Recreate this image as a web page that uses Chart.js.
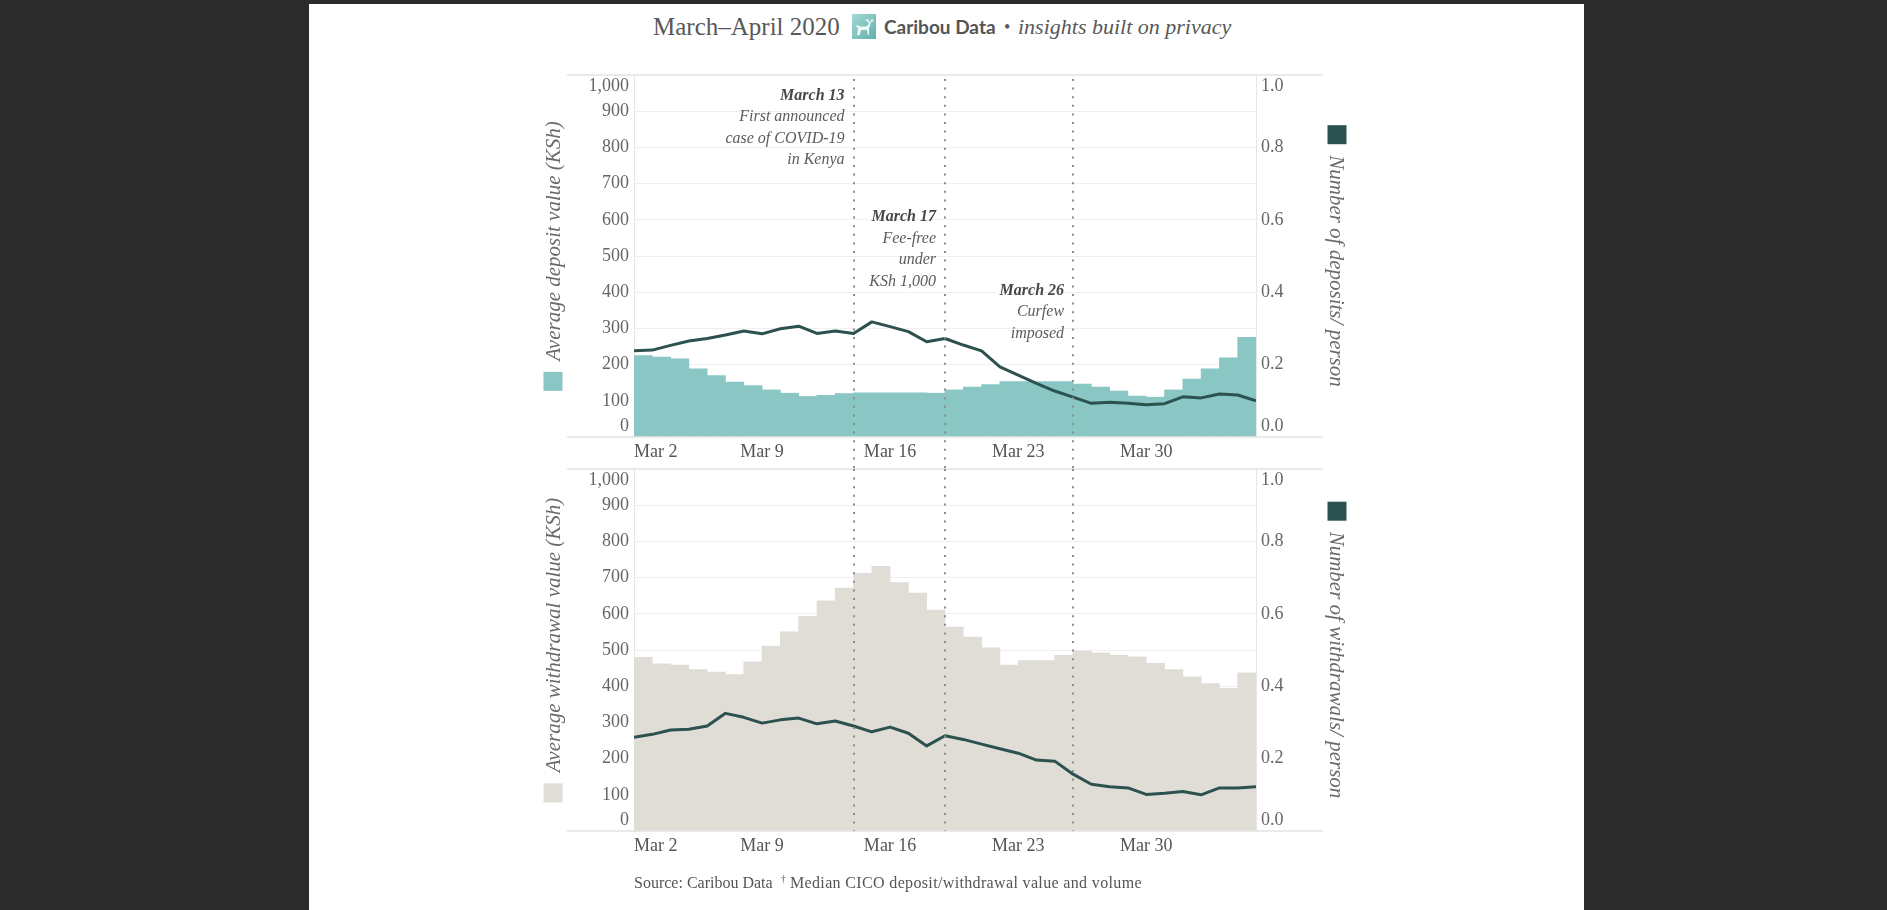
<!DOCTYPE html>
<html>
<head>
<meta charset="utf-8">
<script src="https://cdn.jsdelivr.net/npm/chart.js@4.4.1/dist/chart.umd.min.js"></script>
<style>
html,body{margin:0;padding:0;}
body{width:1887px;height:910px;background:#2b2b2b;position:relative;overflow:hidden;font-family:'Liberation Serif',serif;}
#page{position:absolute;left:309px;top:4px;width:1275px;height:906px;background:#fff;}
.hd{position:absolute;top:9px;height:36px;line-height:36px;white-space:nowrap;color:#585858;}
#t1{left:653px;font-size:25px;}
#logo{position:absolute;left:852px;top:14px;}
#t2{left:884px;font-family:'Lato',sans-serif;font-weight:700;font-size:19px;color:#555;}
#t3{left:1004px;font-size:18px;}
#t4{left:1018px;font-size:22px;font-style:italic;}
#src{position:absolute;left:634px;top:872px;font-size:16px;line-height:22px;color:#555;white-space:nowrap;}
#src sup{font-size:10px;vertical-align:6px;line-height:0;}
#src .n{letter-spacing:0.35px;}
canvas{position:absolute;left:0;}
#cA{top:0;}
#cB{top:440px;}
</style>
</head>
<body>
<div id="page"></div>
<span class="hd" id="t1">March–April 2020</span>
<svg id="logo" width="24" height="25" viewBox="0 0 24 25">
  <defs><linearGradient id="lg" x1="0" y1="0" x2="1" y2="1"><stop offset="0" stop-color="#a6d8d3"/><stop offset="1" stop-color="#5fb0ab"/></linearGradient></defs>
  <rect x="0" y="0" width="24" height="25" fill="url(#lg)"/>
  <path d="M5 21 L6 14 L4 12 L5 11 L8 12.5 L14 12.5 L17 10 L18.5 10.5 L17 14.5 L17 21 L15.8 21 L15 16 L9 16 L7.8 21 Z" fill="#eef8f6"/>
  <path d="M17.5 10 L15.5 5 M17.5 10 L20.5 5 M16 7 L13.5 6 M19.5 7 L22 7" stroke="#eef8f6" stroke-width="1.2" fill="none"/>
</svg>
<span class="hd" id="t2">Caribou Data</span>
<span class="hd" id="t3">•</span>
<span class="hd" id="t4">insights built on privacy</span>
<canvas id="cA" width="1887" height="470"></canvas>
<canvas id="cB" width="1887" height="470"></canvas>
<div id="src">Source: Caribou Data&nbsp;&nbsp;<sup>†</sup><span class="n"> Median CICO deposit/withdrawal value and volume</span></div>

<script>
// ---- categories ----
const barDays = ['Mar 2','Mar 3','Mar 4','Mar 5','Mar 6','Mar 7','Mar 8','Mar 9','Mar 10','Mar 11','Mar 12','Mar 13','Mar 14','Mar 15','Mar 16','Mar 17','Mar 18','Mar 19','Mar 20','Mar 21','Mar 22','Mar 23','Mar 24','Mar 25','Mar 26','Mar 27','Mar 28','Mar 29','Mar 30','Mar 31','Apr 1','Apr 2','Apr 3','Apr 4'];
const lineDays = barDays.concat(['Apr 5']);

// ---- series (bars: average value, KSh; lines: count per person) ----
const depositValue = [225,221,216,188,170,152,142,130,121,112,115,120,122,122,122,122,121,130,138,145,153,153,153,153,146,138,127,113,110,130,160,188,219,275];
const depositCount = [0.238,0.240,0.253,0.265,0.272,0.282,0.293,0.285,0.299,0.306,0.286,0.293,0.286,0.318,0.305,0.291,0.263,0.272,0.254,0.238,0.194,0.171,0.148,0.127,0.110,0.093,0.096,0.093,0.089,0.092,0.111,0.108,0.119,0.116,0.100];
const withdrawValue = [480,462,458,446,439,432,467,511,550,593,636,671,712,731,686,657,610,563,536,506,458,471,471,485,498,492,486,481,463,446,426,407,394,437];
const withdrawCount = [0.259,0.267,0.279,0.281,0.290,0.325,0.314,0.298,0.307,0.312,0.296,0.304,0.290,0.274,0.287,0.270,0.235,0.263,0.253,0.240,0.227,0.215,0.196,0.193,0.157,0.129,0.122,0.119,0.101,0.104,0.109,0.100,0.119,0.119,0.122];

// ---- ticks ----
const xTickDay = [0,7,14,21,28,34];
const xTickText = ['Mar 2','Mar 9','Mar 16','Mar 23','Mar 30',''];
const leftTicks = [0,100,200,300,400,500,600,700,800,900,1000];
const rightTicks = [0,0.2,0.4,0.6,0.8,1.0];

// ---- events ----
const eventDay = [12,17,24];
const eventTitle = ['March 13','March 17','March 26'];
const eventText = [['First announced','case of COVID-19','in Kenya'],['Fee-free','under','KSh 1,000'],['Curfew','imposed']];
const eventLevel = [943,607,404];

const SERIF = "'Liberation Serif', serif";

function sideTitle(ctx, text, color, cx, cy, side) {
  ctx.save();
  ctx.font = 'italic 21px ' + SERIF;
  const w = ctx.measureText(text).width;
  const s = 19, g = 11, L = s + g + w;
  ctx.translate(cx, cy);
  ctx.rotate(side === 'left' ? -Math.PI / 2 : Math.PI / 2);
  ctx.fillStyle = color;
  ctx.fillRect(-L / 2, -s / 2, s, s);
  ctx.fillStyle = '#6a6a6a';
  ctx.textAlign = 'left';
  ctx.textBaseline = 'middle';
  ctx.fillText(text, -L / 2 + s + g, 1);
  ctx.restore();
}

const decor = {
  id: 'decor',
  afterDraw(chart, args, o) {
    const {ctx, chartArea: a, scales} = chart;
    ctx.save();
    ctx.strokeStyle = '#e3e3e3';
    ctx.lineWidth = 1.5;
    [a.top, a.bottom].forEach(y => {
      ctx.beginPath(); ctx.moveTo(a.left - 67, y); ctx.lineTo(a.right + 67, y); ctx.stroke();
    });
    ctx.strokeStyle = '#8c8c8c';
    ctx.lineWidth = 2;
    ctx.setLineDash([2, 6.6]);
    const y0 = o.top ? a.top + 4 : a.top;
    const y1 = o.top ? chart.height : a.bottom;
    eventDay.forEach(d => {
      const x = Math.round(scales.x.getPixelForValue(d));
      ctx.beginPath(); ctx.moveTo(x, y0); ctx.lineTo(x, y1); ctx.stroke();
    });
    ctx.setLineDash([]);
    if (o.top) {
      ctx.textAlign = 'right';
      ctx.textBaseline = 'middle';
      eventDay.forEach((d, i) => {
        const x = scales.x.getPixelForValue(d) - 9;
        const y = scales.y.getPixelForValue(eventLevel[i]);
        ctx.font = 'italic 700 16px ' + SERIF;
        ctx.fillStyle = '#474747';
        ctx.fillText(eventTitle[i], x, y);
        ctx.font = 'italic 16px ' + SERIF;
        ctx.fillStyle = '#5c5c5c';
        eventText[i].forEach((t, j) => ctx.fillText(t, x, y + 21.5 * (j + 1)));
      });
    }
    ctx.restore();
    const cy = (a.top + a.bottom) / 2;
    sideTitle(ctx, o.leftTitle, o.leftColor, a.left - 81, cy, 'left');
    sideTitle(ctx, o.rightTitle, o.rightColor, a.right + 81, cy, 'right');
  }
};

function makeChart(id, values, counts, barColor, pad, decorOpts) {
  return new Chart(document.getElementById(id), {
    type: 'bar',
    data: {
      datasets: [
        {
          type: 'line',
          data: counts.map((v, i) => ({x: i, y: v})),
          yAxisID: 'y1',
          borderColor: '#2c524f',
          borderWidth: 3,
          pointRadius: 0,
          tension: 0,
          borderJoinStyle: 'round',
          borderCapStyle: 'butt',
          order: 1
        },
        {
          type: 'bar',
          data: values.map((v, i) => ({x: i + 0.5, y: v})),
          yAxisID: 'y',
          backgroundColor: barColor,
          borderWidth: 0,
          barPercentage: 1,
          categoryPercentage: 1,
          order: 2
        }
      ]
    },
    options: {
      responsive: false,
      devicePixelRatio: 1,
      animation: false,
      layout: {padding: pad},
      plugins: {legend: {display: false}, tooltip: {enabled: false}, decor: decorOpts},
      scales: {
        x: {
          type: 'linear', min: 0, max: lineDays.length - 1, offset: false,
          grid: {display: false, drawTicks: false, offset: false},
          border: {display: false},
          afterBuildTicks: s => { s.ticks = xTickDay.map(v => ({value: v})); },
          afterFit: s => { s.height = 28; },
          ticks: {
            align: 'inner', maxRotation: 0, autoSkip: false, padding: 4,
            color: '#555', font: {family: SERIF, size: 18},
            callback: (v, i) => xTickText[i]
          }
        },
        y: {
          position: 'left', min: 0, max: 1000,
          afterBuildTicks: s => { s.ticks = leftTicks.map(v => ({value: v})); },
          afterFit: s => { s.width = 80; },
          grid: {
            drawTicks: false, lineWidth: 1,
            color: c => (c.tick && (c.tick.value === 0 || c.tick.value === 1000)) ? 'rgba(0,0,0,0)' : '#f0f0f0'
          },
          border: {display: true, color: '#e6e6e6', width: 1},
          ticks: {
            autoSkip: false, padding: 5, color: '#666', font: {family: SERIF, size: 18},
            callback: v => v === 1000 ? ['', '1,000'] : (v === 0 ? ['0', ''] : String(v))
          }
        },
        y1: {
          position: 'right', min: 0, max: 1,
          afterBuildTicks: s => { s.ticks = rightTicks.map(v => ({value: v})); },
          afterFit: s => { s.width = 60; },
          grid: {display: false, drawTicks: false},
          border: {display: true, color: '#e6e6e6', width: 1},
          ticks: {
            autoSkip: false, padding: 5, color: '#666', font: {family: SERIF, size: 18},
            callback: v => v === 1 ? ['', '1.0'] : (v === 0 ? ['0.0', ''] : v.toFixed(1))
          }
        }
      }
    },
    plugins: [decor]
  });
}

makeChart('cA', depositValue, depositCount, '#89c6c4',
  {left: 554, right: 571, top: 75, bottom: 5},
  {top: true, leftTitle: 'Average deposit value (KSh)', leftColor: '#89c6c4',
   rightTitle: 'Number of deposits/ person', rightColor: '#2c524f'});

makeChart('cB', withdrawValue, withdrawCount, '#e0ddd7',
  {left: 554, right: 571, top: 29, bottom: 51},
  {top: false, leftTitle: 'Average withdrawal value (KSh)', leftColor: '#e0ddd7',
   rightTitle: 'Number of withdrawals/ person', rightColor: '#2c524f'});
</script>
</body>
</html>
